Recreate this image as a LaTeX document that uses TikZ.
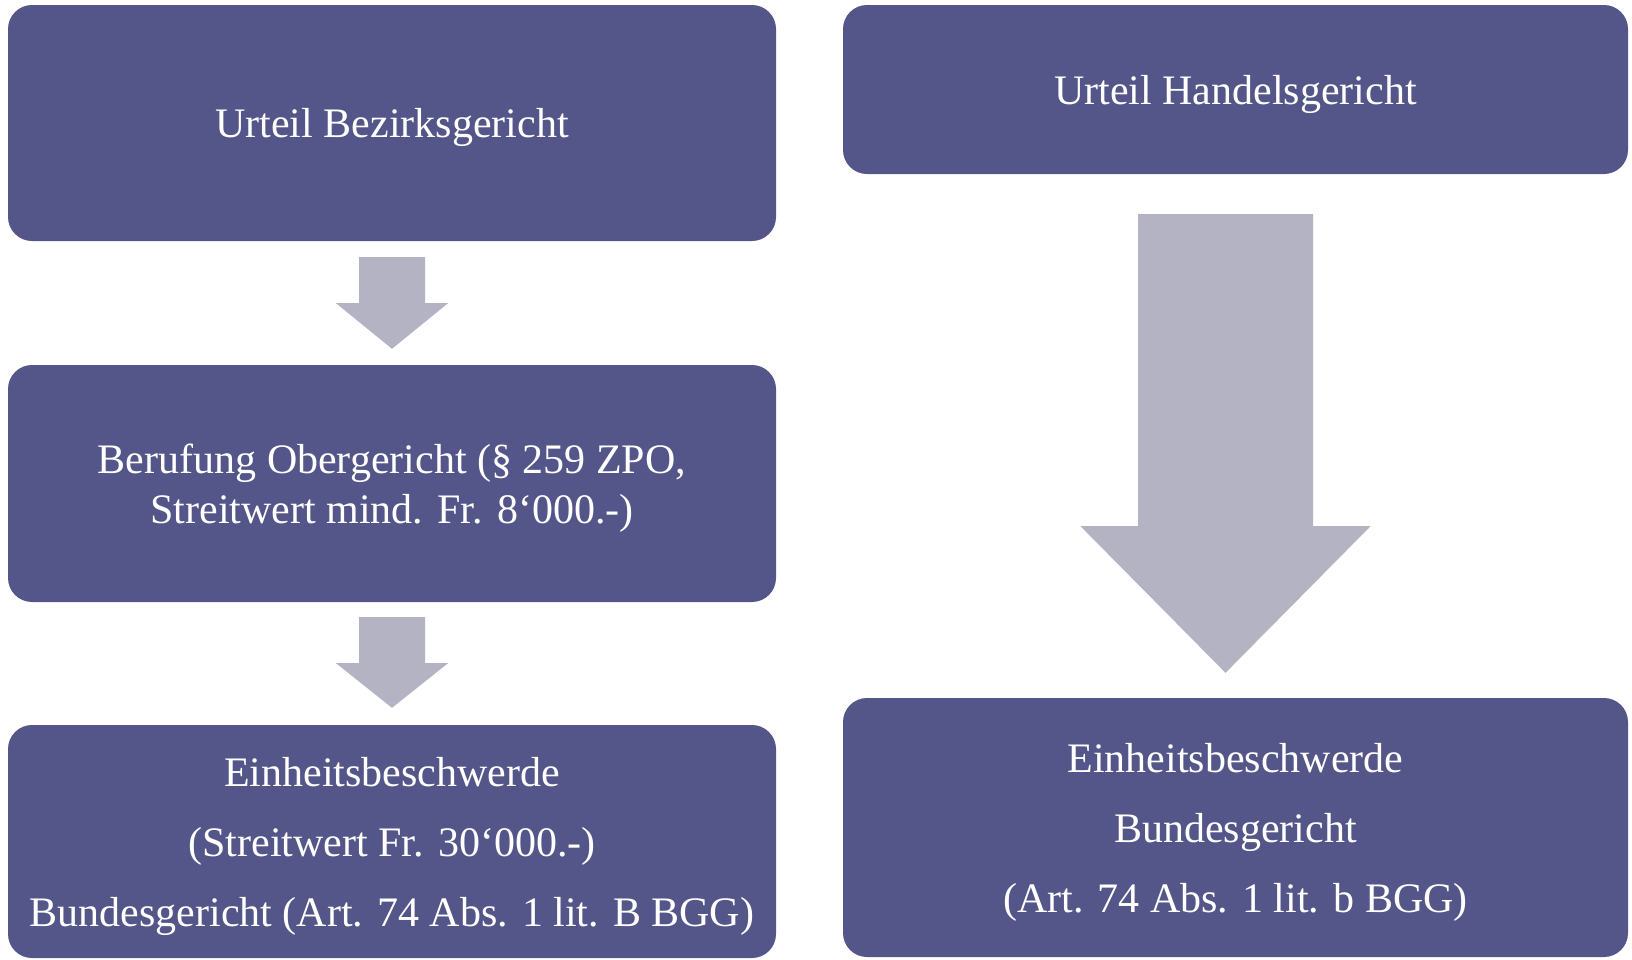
\documentclass[tikz,border=0pt]{standalone}
\usepackage{fontspec}
\setmainfont{Liberation Serif}
\usetikzlibrary{calc}
\definecolor{boxc}{RGB}{84,85,137}
\definecolor{arrc}{RGB}{179,179,196}
\tikzset{
  box/.style={fill=boxc, rounded corners=24pt, text=white, align=center, inner sep=0pt, text depth=0pt},
  tallbox/.style={box, font=\fontsize{42}{70}\selectfont},
  midbox/.style={box, font=\fontsize{42}{50}\selectfont},
  blockarrow/.style={fill=arrc, draw=none}
}
\begin{document}
\begin{tikzpicture}[x=1pt,y=-1pt]
\useasboundingbox (0,0) rectangle (1632,959);
% left column
\node[midbox, minimum width=768pt, minimum height=236pt] (b1) at (392,123) {Urteil Bezirksgericht};
\node[midbox, minimum width=768pt, minimum height=237pt] (b2) at (392,483.5) {Berufung Obergericht (§ 259 ZPO,\\Streitwert mind. Fr. 8‘000.-)};
\node[tallbox, minimum width=768pt, minimum height=233pt] (b3) at (392,841.5) {Einheitsbeschwerde\\(Streitwert Fr. 30‘000.-)\\Bundesgericht (Art. 74 Abs. 1 lit. B BGG)};
% right column
\node[midbox, minimum width=785pt, minimum height=169pt] (r1) at (1235.5,89.5) {Urteil Handelsgericht};
\node[tallbox, minimum width=785pt, minimum height=259pt] (r2) at (1235.5,827.5) {Einheitsbeschwerde\\Bundesgericht\\(Art. 74 Abs. 1 lit. b BGG)};
% arrows left
\fill[blockarrow] ($(b1.south)+(-33,16)$) -- ($(b1.south)+(33,16)$) -- ($(b1.south)+(33,62)$) -- ($(b1.south)+(56,62)$)
  -- ($(b2.north)+(0,-16)$) -- ($(b1.south)+(-56,62)$) -- ($(b1.south)+(-33,62)$) -- cycle;
\fill[blockarrow] ($(b2.south)+(-33,15)$) -- ($(b2.south)+(33,15)$) -- ($(b2.south)+(33,61)$) -- ($(b2.south)+(56,61)$)
  -- ($(b3.north)+(0,-17)$) -- ($(b2.south)+(-56,61)$) -- ($(b2.south)+(-33,61)$) -- cycle;
% arrow right
\coordinate (rt) at ($(r1.south)+(-10,40)$);
\coordinate (rtip) at ($(r2.north)+(-10,-25)$);
\fill[blockarrow] ($(rt)+(-87.5,0)$) -- ($(rt)+(87.5,0)$) -- ($(rt)+(87.5,312)$) -- ($(rt)+(145,312)$)
  -- (rtip) -- ($(rt)+(-145,312)$) -- ($(rt)+(-87.5,312)$) -- cycle;
\end{tikzpicture}
\end{document}
